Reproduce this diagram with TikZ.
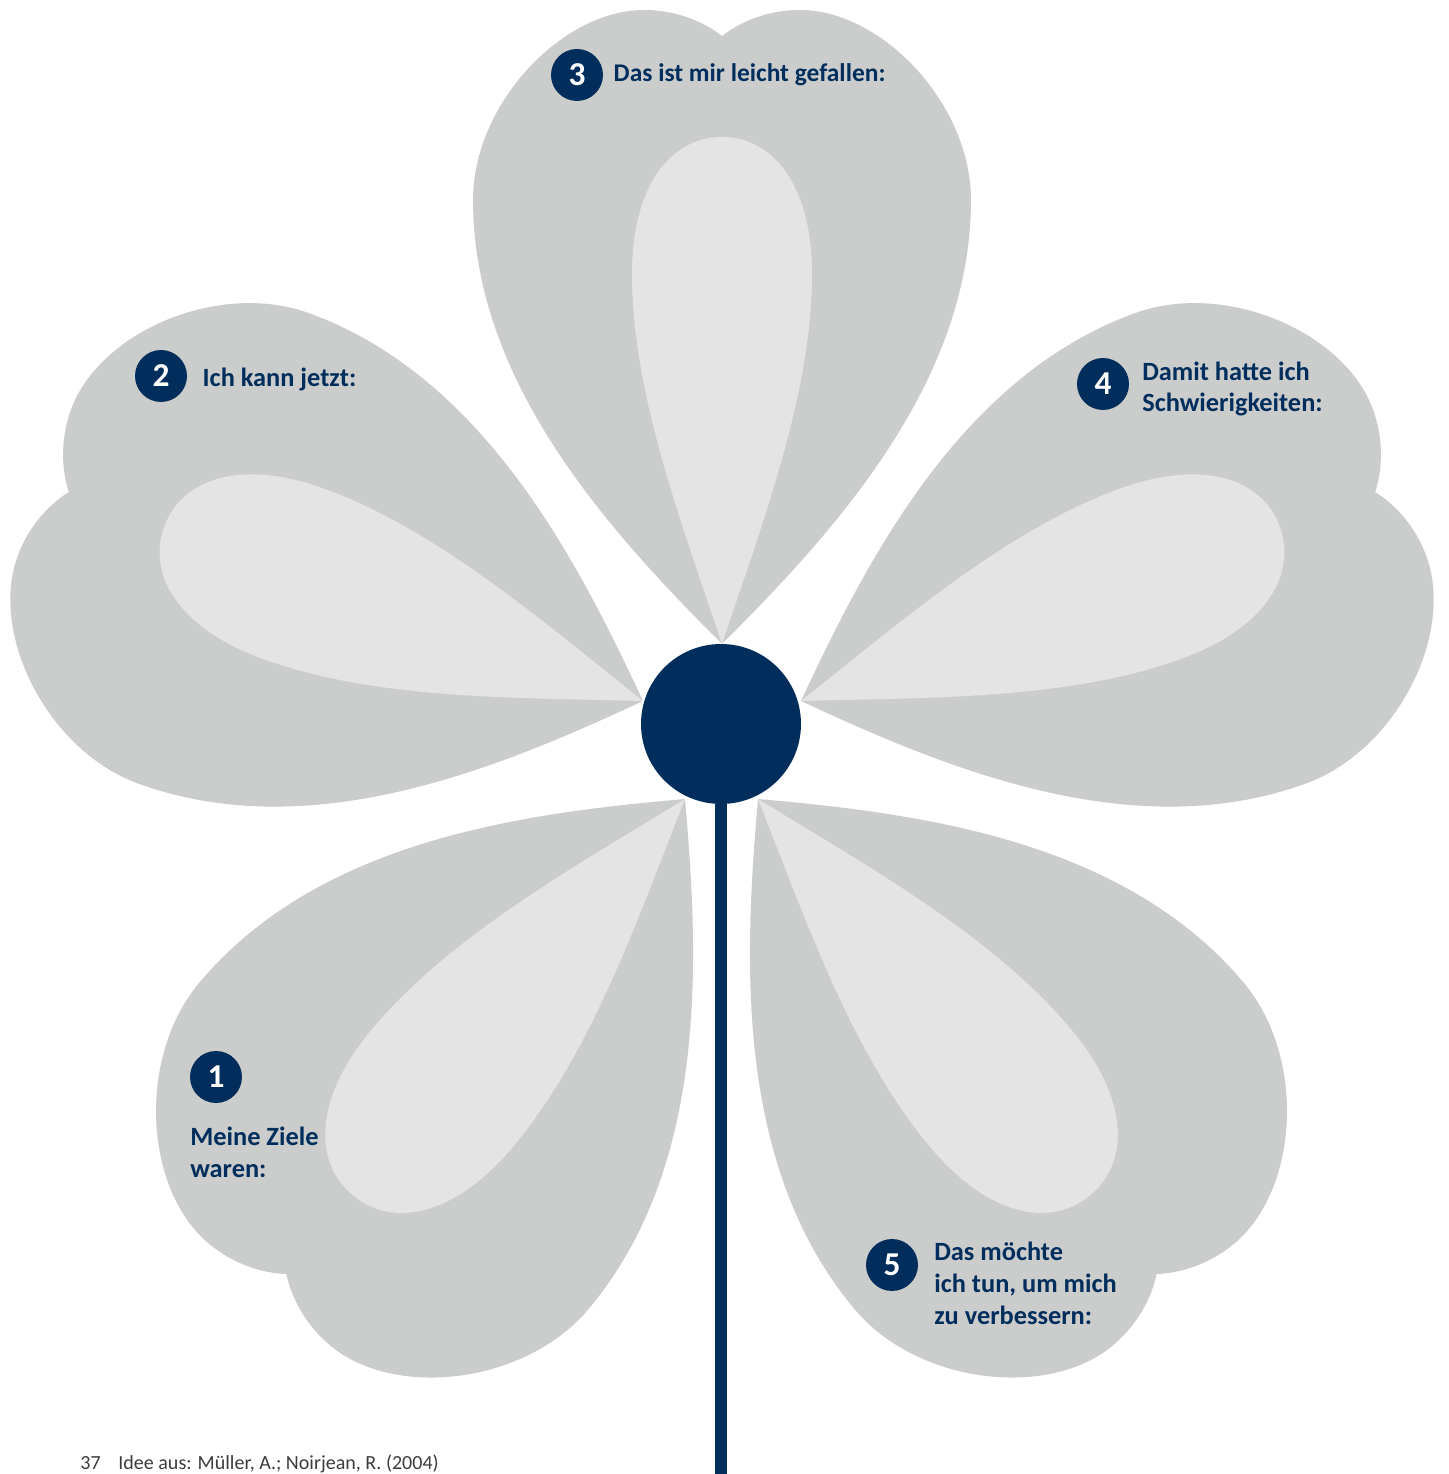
\documentclass[tikz,border=0pt]{standalone}
\usepackage{fontspec}
\setmainfont{Carlito}
\usetikzlibrary{positioning}
\definecolor{blattgrau}{RGB}{203,204,204}
\definecolor{blatthell}{RGB}{228,228,228}
\definecolor{bluetenblau}{RGB}{0,46,92}
\definecolor{fussgrau}{RGB}{60,60,60}

\begin{document}
\begin{tikzpicture}[x=0.02cm,y=0.02cm,
  nummer/.style={circle,fill=bluetenblau,text=white,minimum size=1.04cm,
                 inner sep=0pt,font=\fontsize{19}{19}\selectfont\bfseries},
  frage/.style={text=bluetenblau,inner sep=0pt,align=left,
                font=\fontsize{15}{18.2}\selectfont\bfseries},
  fussnote/.style={text=fussgrau,inner sep=0pt,font=\fontsize{11.4}{12}\selectfont}]
\useasboundingbox (0,0) rectangle (1448,1474);
\clip (0,0) rectangle (1448,1474);

% petals: tip x / tip y / direction of the petal axis / size
\foreach \px/\py/\dir/\gr in {722/830/90/1, 643/773/160/1.005, 801/773/20/1.005,
                              685/675/230/1.02, 758/675/310/1.02}{
  \begin{scope}[shift={(\px,\py)},rotate=\dir-90,scale=\gr]
    \fill[blattgrau] (0,0) .. controls (110,110) and (249,260) .. (249,444)
      .. controls (249,540) and (160,634) .. (78,634)
      .. controls (45,634) and (18,622) .. (0,608)
      .. controls (-18,622) and (-45,634) .. (-78,634)
      .. controls (-160,634) and (-249,540) .. (-249,444)
      .. controls (-249,260) and (-110,110) .. cycle;
    \fill[blatthell] (0,0) .. controls (40,120) and (90,250) .. (90,370)
      .. controls (90,460) and (50,507) .. (0,507)
      .. controls (-50,507) and (-90,460) .. (-90,370)
      .. controls (-90,250) and (-40,120) .. cycle;
  \end{scope}
}

% flower head and stem
\node[circle,fill=bluetenblau,minimum size=3.2cm,inner sep=0pt] (mitte) at (721,750) {};
\coordinate (boden) at (721,0);
\draw[bluetenblau,line width=0.24cm] (mitte.south) -- (boden);

% numbered questions
\node[nummer] (n1) at (216,397) {1};
\node[frage,anchor=west] (t1) at (190,322) {Meine Ziele\\waren:};
\node[nummer] (n2) at (161,1098) {2};
\node[frage,right=0.3cm of n2,yshift=-2] (t2) {Ich kann jetzt:};
\node[nummer] (n3) at (577,1399) {3};
\node[frage,right=0.2cm of n3,font=\fontsize{14.5}{18.2}\selectfont\bfseries] (t3) {Das ist mir leicht gefallen:};
\node[nummer] (n4) at (1103,1090) {4};
\node[frage,anchor=west] (t4) at (1142,1085) {Damit hatte ich\\Schwierigkeiten:};
\node[nummer] (n5) at (892,209) {5};
\node[frage,anchor=west] (t5) at (934,191) {Das möchte\\ich tun, um mich\\zu verbessern:};

% source line
\node[fussnote,anchor=base west] (fn) at (80,5) {37};
\node[fussnote,anchor=base west] (quelle) at (118,5) {Idee aus: Müller, A.; Noirjean, R. (2004)};
\end{tikzpicture}
\end{document}
